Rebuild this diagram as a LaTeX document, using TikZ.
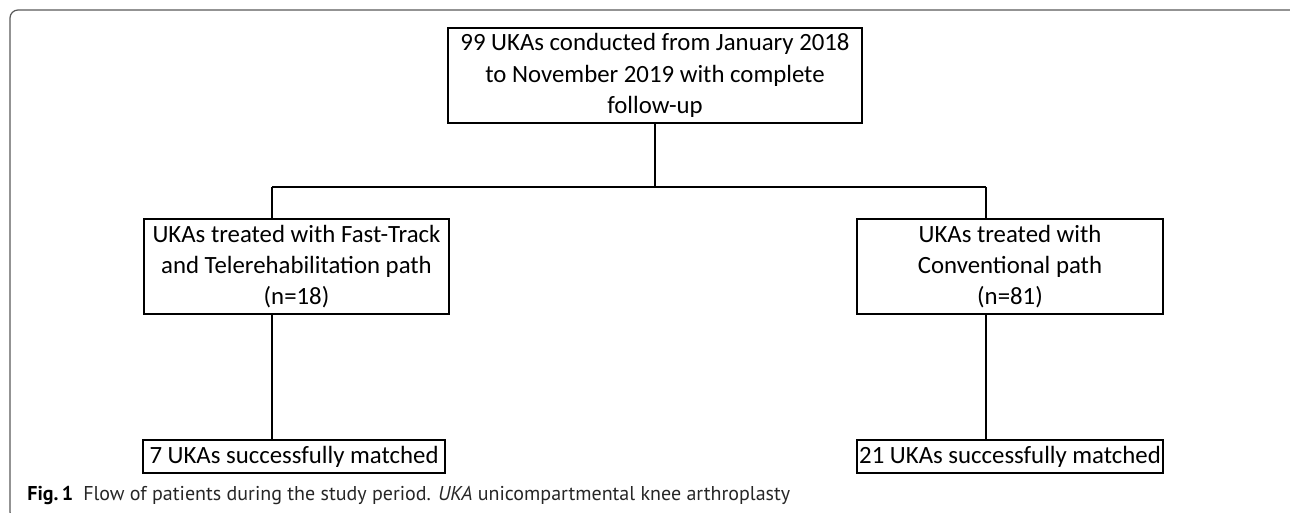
\documentclass[tikz,border=0pt]{standalone}
\usepackage{fontspec}
\setmainfont{Carlito}
\newfontfamily\capfont{PT Sans}
\usetikzlibrary{positioning}

\begin{document}
\begin{tikzpicture}[x=0.5pt,y=-0.5pt,
  box/.style={draw,line width=1.3pt,inner sep=0pt,align=center,
    minimum height=95*0.5pt,font=\fontsize{12.4}{15.6}\selectfont},
  endbox/.style={box,minimum height=33*0.5pt},
  link/.style={line width=1pt}]
\useasboundingbox (0,0) rectangle (1290,513);

% Marco
\begin{scope}
\clip (0,0) rectangle (1290,513);
\draw[line width=0.6pt,black!65,rounded corners=4pt] (10,10) rectangle (1310,520);
\end{scope}

% Cajas
\node[box,minimum width=414*0.5pt] (total) at (655,75.5)
  {99 UKAs conducted from January 2018\\ to November 2019 with complete\\ follow-up};
\node[box,minimum width=305*0.5pt] (fast) at (296.5,266.5)
  {UKAs treated with Fast-Track\\ and Telerehabilitation path\\ (n=18)};
\node[box,minimum width=306*0.5pt] (conv) at (1010,266.5)
  {UKAs treated with\\ Conventional path\\ (n=81)};
\node[endbox,minimum width=302*0.5pt] (fastend) at (294,456.5)
  {7 UKAs successfully matched};
\node[endbox,minimum width=306*0.5pt] (convend) at (1010,456.5)
  {21 UKAs successfully matched};

% Lineas
\coordinate (split) at (655,187);
\coordinate (lft) at (272,187);
\coordinate (rgt) at (986,187);
\draw[link] (total) -- (split);
\draw[link] (lft) -- (rgt);
\draw[link] (lft) -- (lft |- fast.north);
\draw[link] (rgt) -- (rgt |- conv.north);
\draw[link] (lft |- fast.south) -- (lft |- fastend.north);
\draw[link] (rgt |- conv.south) -- (rgt |- convend.north);

% Pie de figura
\node[anchor=base west,inner sep=0pt,font=\capfont\fontsize{10}{12}\selectfont] (caption) at (27,500)
  {\textbf{Fig.\,1}\enspace{\color{black!85}Flow of patients during the study period. \textit{UKA} unicompartmental knee arthroplasty}};
\end{tikzpicture}
\end{document}
